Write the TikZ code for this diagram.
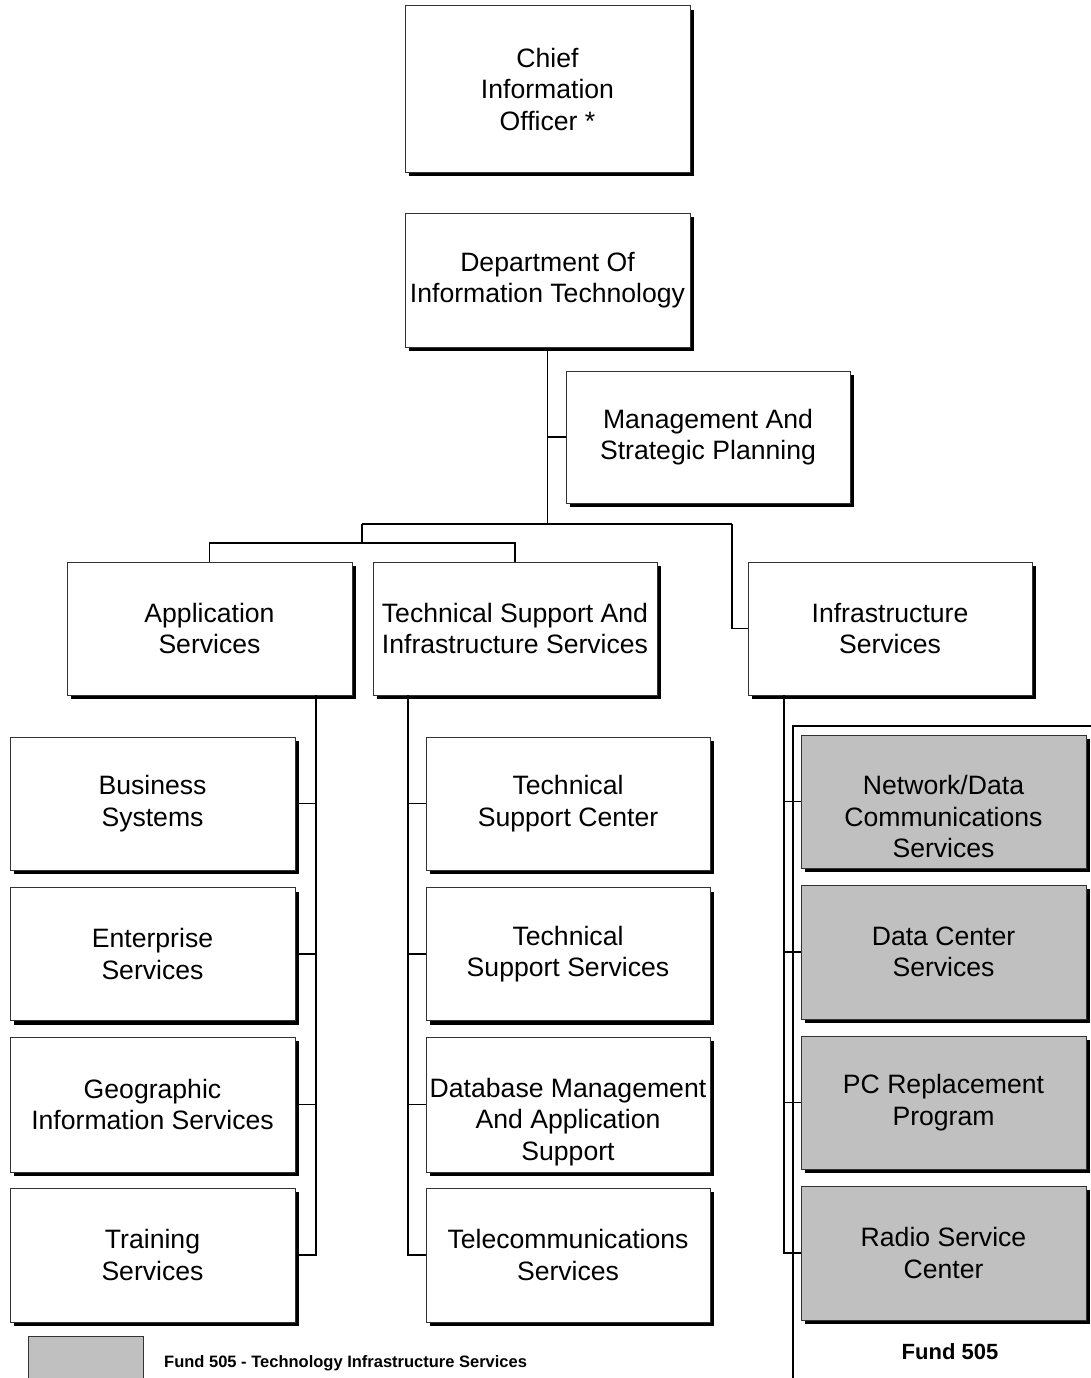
\documentclass[tikz,border=0pt]{standalone}
\usepackage{fontspec}
\setmainfont{Liberation Sans}
\usetikzlibrary{shadows}
\definecolor{fundgray}{RGB}{192,192,192}
\newcommand{\lowr}{\rule{0pt}{50pt}}
\begin{document}
\begin{tikzpicture}[x=1pt,y=-1pt,
  box/.style={draw=black!80, line width=1pt, fill=white, align=center,
    inner sep=0pt, minimum width=285pt, minimum height=133pt,
    font=\fontsize{26.6}{31.5}\selectfont,
    general shadow={fill=black, shadow xshift=4pt, shadow yshift=-4pt}},
  fund/.style={box, fill=fundgray},
  conn/.style={draw=black, line width=1.3pt}]
\useasboundingbox (0,0) rectangle (1091,1378);

\node[box, minimum height=166pt] (cio) at (547.5,89) {Chief\\Information\\Officer *};
\node[box, minimum height=134pt] (doit) at (547.5,280) {Department Of\\Information Technology};
\node[box, minimum width=284pt, minimum height=132pt] (mgmt) at (708,437) {Management And\\Strategic Planning};

\node[box] (app) at (209.5,628.5) {Application\\Services};
\node[box, minimum width=284pt] (tsis) at (515,628.5) {Technical Support And\\Infrastructure Services};
\node[box, minimum width=284pt] (infra) at (890,628.5) {Infrastructure\\Services};

\node[box] (bs) at (152.5,803.5) {Business\\Systems};
\node[box] (es) at (152.5,954) {Enterprise\\Services};
\node[box, minimum height=135pt] (gis) at (152.5,1104.5) {Geographic\\Information Services};
\node[box, minimum height=134pt] (tr) at (152.5,1255) {Training\\Services};

\node[box, minimum width=284pt] (tsc) at (568,803.5) {Technical\\Support Center};
\node[box, minimum width=284pt] (tss) at (568,954) {Technical\\Support Services};
\node[box, minimum width=284pt, minimum height=135pt] (dbm) at (568,1104.5) {\rule{0pt}{54pt}Database Management\\And Application\\Support};
\node[box, minimum width=284pt, minimum height=134pt] (tel) at (568,1255) {Telecommunications\\Services};

% Fund 505 bracket
\coordinate (fb1) at (1091,726);
\coordinate (fb2) at (793,726);
\coordinate (fb3) at (793,1378);
\draw[line width=1.2pt] (fb1) -- (fb2) -- (fb3);

\node[fund] (net) at (943.5,801.5) {\lowr Network/Data\\Communications\\Services};
\node[fund, minimum height=134pt] (dc) at (943.5,952) {Data Center\\Services};
\node[fund] (pc) at (943.5,1102.5) {PC Replacement\\Program};
\node[fund, minimum height=134pt] (rsc) at (943.5,1253) {Radio Service\\Center};

\node[font=\bfseries\fontsize{22}{26}\selectfont] (f505) at (950,1352) {Fund 505};

% legend
\node[draw=black!80, line width=1pt, fill=fundgray, minimum width=115pt, minimum height=45pt, inner sep=0pt] (leg) at (85.5,1358.5) {};
\node[font=\bfseries\fontsize{16.5}{19}\selectfont, anchor=west, inner sep=0pt] (legt) at (164,1363) {Fund 505 - Technology Infrastructure Services};

% connectors
\coordinate (j1) at (547.5,524);
\coordinate (j2) at (362,524);
\coordinate (j3) at (362,543);
\coordinate (j4) at (732,524);
\draw[conn] (doit.south) -- (j1);
\draw[conn] (doit.south) |- (mgmt.west);
\draw[conn] (j2) -- (j4);
\draw[conn] (j2) -- (j3);
\draw[conn] (app.north) |- (j3) -| (tsis.north);
\draw[conn] (j4) |- (infra.west);

\coordinate (a0) at (316,695);
\draw[conn] (a0) |- (bs.east);
\draw[conn] (a0) |- (es.east);
\draw[conn] (a0) |- (gis.east);
\draw[conn] (a0) |- (tr.east);

\coordinate (t0) at (408,695);
\draw[conn] (t0) |- (tsc.west);
\draw[conn] (t0) |- (tss.west);
\draw[conn] (t0) |- (dbm.west);
\draw[conn] (t0) |- (tel.west);

\coordinate (i0) at (784,695);
\draw[conn] (i0) |- (net.west);
\draw[conn] (i0) |- (dc.west);
\draw[conn] (i0) |- (pc.west);
\draw[conn] (i0) |- (rsc.west);
\end{tikzpicture}
\end{document}
